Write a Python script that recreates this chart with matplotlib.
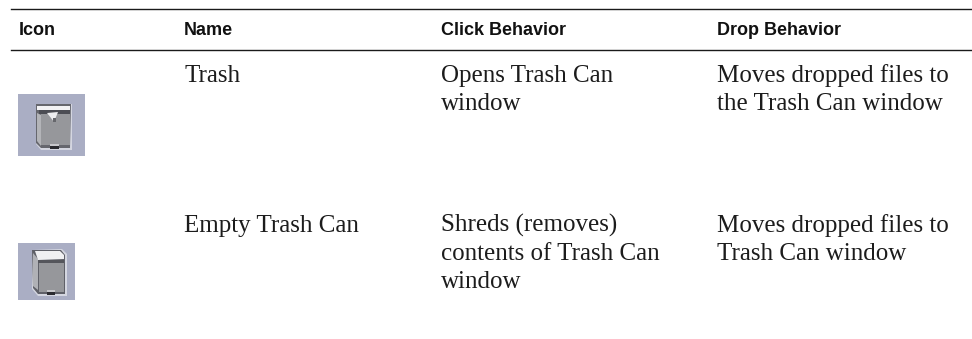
import matplotlib
matplotlib.use("Agg")
import matplotlib.pyplot as plt
from matplotlib.patches import Rectangle, Polygon

headers = ["Icon", "Name", "Click Behavior", "Drop Behavior"]
names = ["Trash", "Empty Trash Can"]
clicks = [["Opens Trash Can", "window"],
          ["Shreds (removes)", "contents of Trash Can", "window"]]
drops = [["Moves dropped files to", "the Trash Can window"],
         ["Moves dropped files to", "Trash Can window"]]

# layout in pixels
col_x = [19, 184, 441, 717]
row_y = [82, 232]
line_h = 28
body_size = 18

fig = plt.figure(figsize=(9.72, 3.39), dpi=100)
ax = fig.add_axes([0, 0, 1, 1])
ax.set_xlim(0, 972)
ax.set_ylim(339, 0)
ax.axis("off")

# rules
ax.plot([11, 972], [9, 9], color="#1a1a1a", lw=1.0)
ax.plot([11, 972], [50, 50], color="#1a1a1a", lw=1.0)

# header
for x, h in zip(col_x, headers):
    ax.text(x, 35, h, family="Liberation Sans", weight="bold", fontsize=13,
            va="baseline", ha="left", color="#111111")

# rows
for i in range(len(names)):
    y = row_y[i]
    for x, lines in zip(col_x[1:], ([names[i]], clicks[i], drops[i])):
        for j, t in enumerate(lines):
            ax.text(x, y + j * line_h, t, family="Liberation Serif", fontsize=body_size,
                    va="baseline", ha="left", color="#1c1c1c")


def rect(x, y, w, h, c):
    ax.add_patch(Rectangle((x, y), w, h, facecolor=c, edgecolor="none"))


def poly(pts, c):
    ax.add_patch(Polygon(pts, closed=True, facecolor=c, edgecolor="none"))


bg = "#aaaec4"

# trash icon, open lid
rect(18, 94, 67, 62, bg)
poly([[36, 104], [72, 104], [72, 150], [41, 150], [36, 144]], "#d4d6e0")
poly([[36, 104], [71, 104], [70, 148], [41, 148], [36, 143]], "#66676e")
rect(41, 114, 29, 31, "#96979b")
poly([[37, 113], [41, 115], [41, 146], [37, 141]], "#b3b4b8")
rect(37, 106, 33, 4, "#f2f2f4")
rect(39, 110, 31, 4, "#4c4d54")
poly([[47, 113], [58, 112], [54, 122], [51, 118]], "#eeeef0")
rect(53, 118, 3, 4, "#66676c")
rect(50, 146, 9, 2.5, "#2b2b30")
rect(50, 144, 9, 2, "#c8c8cc")

# empty can icon
rect(18, 243, 57, 57, bg)
poly([[32, 250], [62, 249], [67, 254], [67, 296], [38, 296], [32, 289]], "#d4d6e0")
poly([[32, 250], [61, 250], [65, 255], [65, 294], [38, 294], [33, 288]], "#5f6068")
rect(39, 263, 25, 29, "#96979b")
poly([[33, 253], [38, 259], [38, 290], [33, 286]], "#b0b1b6")
poly([[35, 251], [60, 251], [64, 255], [64, 259], [38, 260]], "#f0f0f2")
rect(38, 260, 26, 3, "#55565c")
rect(47, 292, 8, 2.5, "#2b2b30")
rect(47, 290, 8, 2, "#c8c8cc")

fig.savefig("out.png", dpi=100)
